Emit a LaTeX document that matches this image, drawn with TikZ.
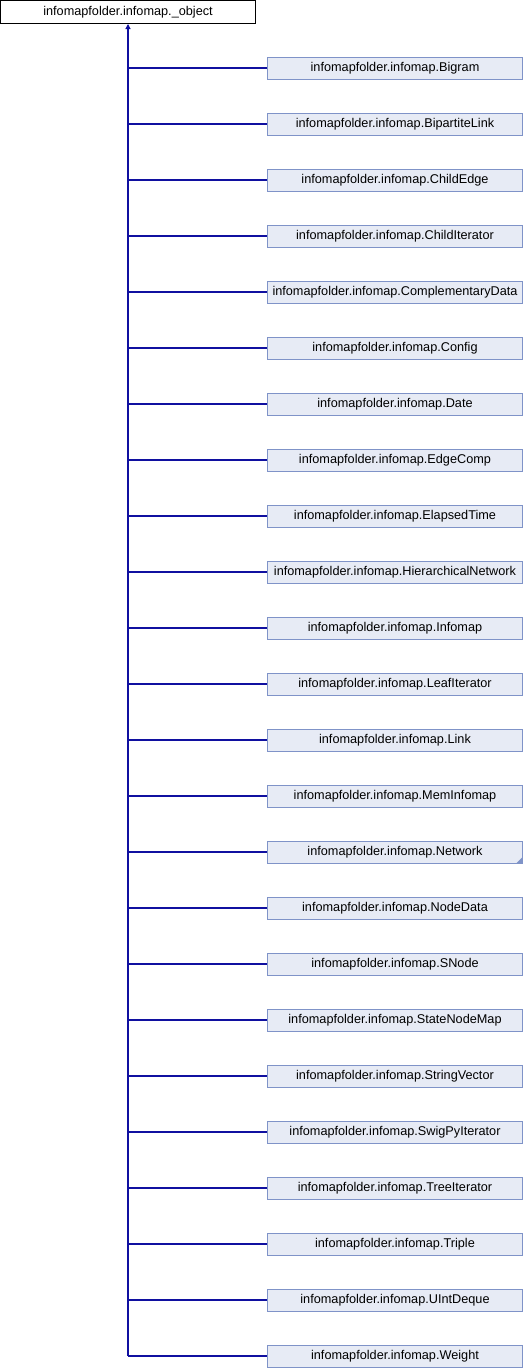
\documentclass[tikz,border=0pt]{standalone}
\usepackage{fontspec}
\setmainfont{Liberation Sans}
\usetikzlibrary{arrows.meta}
\definecolor{edgeblue}{HTML}{1010A0}
\definecolor{boxborder}{HTML}{7F93C8}
\definecolor{boxfill}{HTML}{E7EBF5}
\begin{document}
\begin{tikzpicture}[x=1pt,y=-1pt,
  font=\fontsize{12.7}{14}\selectfont,
  basebox/.style={draw=black, fill=white, line width=1pt, minimum width=255pt, minimum height=23pt, inner sep=0pt, anchor=center},
  childbox/.style={draw=boxborder, fill=boxfill, line width=1pt, minimum width=255pt, minimum height=22pt, inner sep=0pt, anchor=west},
  edge/.style={draw=edgeblue, line width=1.1pt},
  tipstyle/.style={-{Triangle[length=5pt,width=5pt]}}
]
\useasboundingbox (0,0) rectangle (524,1368);
\node[basebox] (base) at (128,12) {infomapfolder.infomap.\_object};
\coordinate (trunk) at (128,1356);
\draw[edge,tipstyle,edgeblue] (trunk) -- (base.south);
\foreach \name [count=\i from 0] in {Bigram,BipartiteLink,ChildEdge,ChildIterator,ComplementaryData,Config,Date,EdgeComp,ElapsedTime,HierarchicalNetwork,Infomap,LeafIterator,Link,MemInfomap,Network,NodeData,SNode,StateNodeMap,StringVector,SwigPyIterator,TreeIterator,Triple,UIntDeque,Weight}{
  \node[childbox] (c\i) at (267,68+56*\i) {infomapfolder.infomap.\name};
  \coordinate (j\i) at (128,68+56*\i);
  \draw[edge] (j\i) -- (c\i.west);
}
\fill[boxborder] (c14.south east) ++(-0.5,-0.5) -- ++(0,-6) -- ++(-6,6) -- cycle;
\end{tikzpicture}
\end{document}
